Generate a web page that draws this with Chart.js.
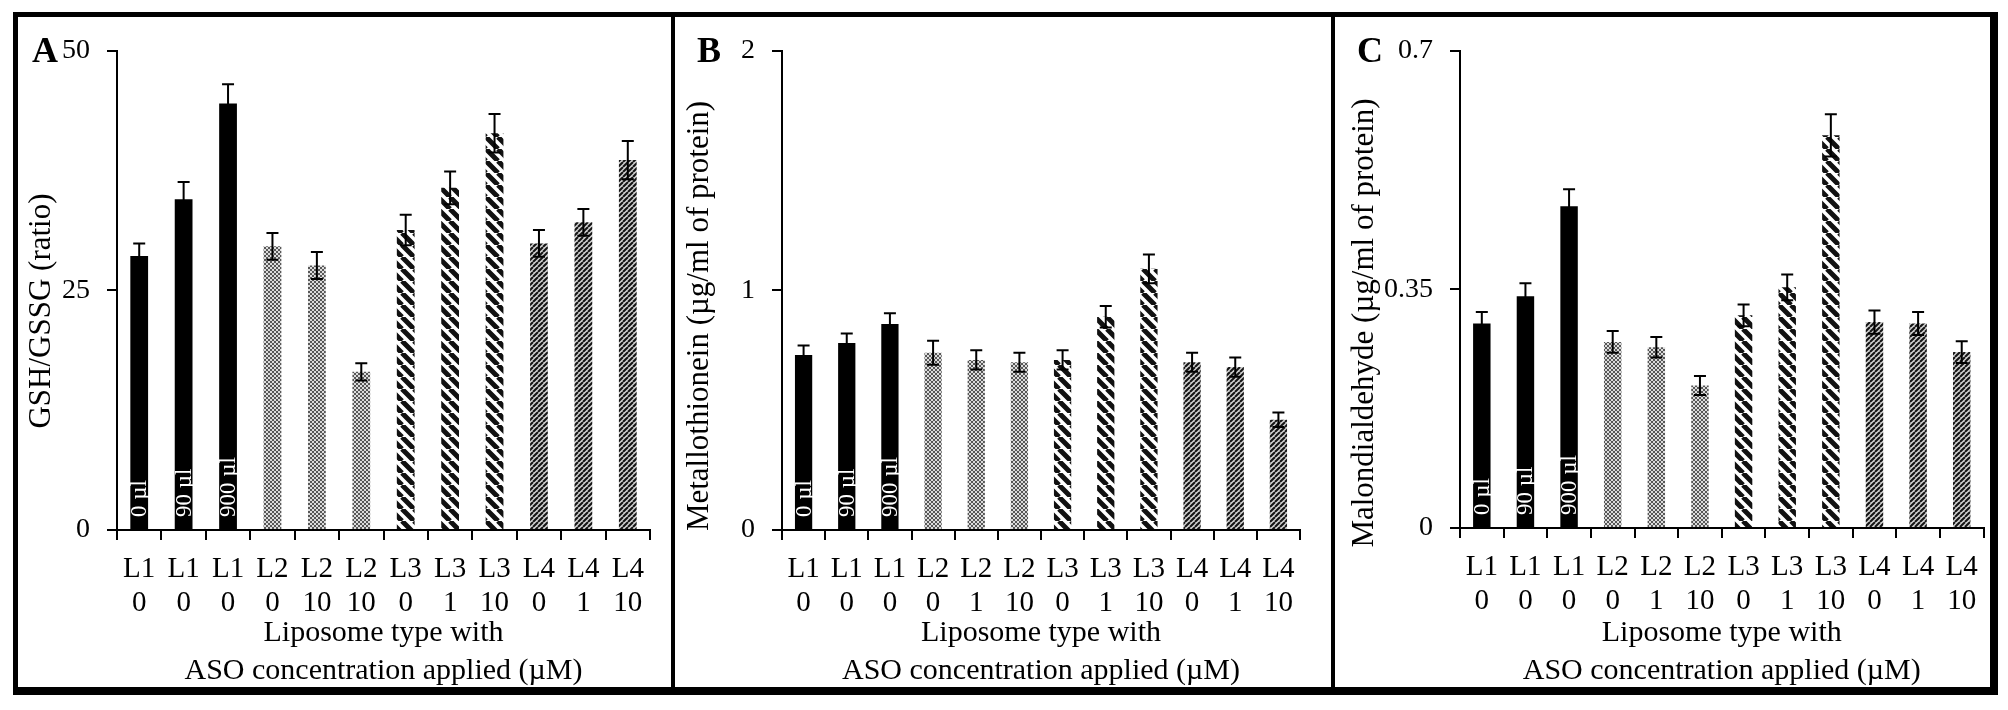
<!DOCTYPE html>
<html lang="en">
<head>
<meta charset="UTF-8">
<title>GSH/GSSG, metallothionein, malondialdehyde</title>
<script src="https://cdn.jsdelivr.net/npm/chart.js"></script>
<style>
  body { margin: 0; background: #fff; }
  #page { position: relative; width: 2008px; height: 710px; overflow: hidden; }
  canvas { position: absolute; }
  .frame { position: absolute; left: 13px; top: 12px; width: 1985px; height: 683px; box-sizing: border-box;
           border-style: solid; border-color: #000; border-width: 5px 8px 8px 5px; }
  .divider { position: absolute; top: 12px; width: 4px; height: 683px; background: #000; }
</style>
</head>
<body>
<div id="page">
  <canvas id="chartA" width="653" height="673" style="left:18px;top:17px"></canvas>
  <canvas id="chartB" width="656" height="673" style="left:675px;top:17px"></canvas>
  <canvas id="chartC" width="655" height="673" style="left:1335px;top:17px"></canvas>
  <div class="frame"></div>
  <div class="divider" style="left:671px"></div>
  <div class="divider" style="left:1331px"></div>
</div>
<script>
// categories
const liposome = ['L1','L1','L1','L2','L2','L2','L3','L3','L3','L4','L4','L4'];
const asoA  = ['0','0','0','0','10','10','0','1','10','0','1','10'];
const asoBC = ['0','0','0','0','1','10','0','1','10','0','1','10'];
const volumeNotes = ['0 µl','90 µl','900 µl'];

// series (mean, error)
const gshRatio = [28.6, 34.5, 44.5, 29.6, 27.6, 16.5, 31.3, 35.7, 41.4, 29.9, 32.1, 38.6];
const gshErr   = [1.3, 1.8, 2.0, 1.4, 1.4, 0.9, 1.6, 1.7, 2.0, 1.4, 1.4, 2.0];
const metallothionein    = [0.73, 0.78, 0.86, 0.74, 0.71, 0.70, 0.71, 0.89, 1.09, 0.70, 0.68, 0.46];
const metallothioneinErr = [0.04, 0.04, 0.045, 0.05, 0.04, 0.04, 0.04, 0.045, 0.06, 0.04, 0.04, 0.03];
const malondialdehyde    = [0.300, 0.340, 0.472, 0.273, 0.265, 0.209, 0.312, 0.353, 0.576, 0.302, 0.300, 0.258];
const malondialdehydeErr = [0.017, 0.019, 0.025, 0.016, 0.015, 0.014, 0.016, 0.019, 0.031, 0.017, 0.017, 0.016];

// tick labels
const ticksA = [0, 25, 50];
const ticksB = [0, 1, 2];
const ticksC = [0, 0.35, 0.7];

const FONT = 'Liberation Serif';

function makeFills(ctx) {
  function tile(size, draw) {
    const c = document.createElement('canvas');
    c.width = c.height = size;
    draw(c.getContext('2d'), size);
    return ctx.createPattern(c, 'repeat');
  }
  const dots = tile(4, (g) => {
    g.fillStyle = '#dcdcdc'; g.fillRect(0, 0, 4, 4);
    g.fillStyle = '#575757'; g.fillRect(0, 0, 2, 2); g.fillRect(2, 2, 2, 2);
  });
  const wide = tile(12, (g, s) => {
    g.fillStyle = '#fff'; g.fillRect(0, 0, s, s);
    g.strokeStyle = '#111'; g.lineWidth = 5;
    g.beginPath();
    for (const k of [-s, 0, s]) { g.moveTo(k, 0); g.lineTo(k + s, s); }
    g.stroke();
  });
  const fine = tile(5, (g, s) => {
    g.fillStyle = '#cfcfcf'; g.fillRect(0, 0, s, s);
    g.strokeStyle = '#141414'; g.lineWidth = 2;
    g.beginPath();
    for (const k of [-s, 0, s]) { g.moveTo(k, s); g.lineTo(k + s, 0); }
    g.stroke();
  });
  return { L1: '#000', L2: dots, L3: wide, L4: fine };
}

// error bars, volume notes, panel letter and y title
const panelText = {
  id: 'panelText',
  afterDatasetsDraw(chart, args, o) {
    const ctx = chart.ctx, area = chart.chartArea, y = chart.scales.y;
    const meta = chart.getDatasetMeta(0);
    const vals = chart.data.datasets[0].data;
    ctx.save();
    ctx.strokeStyle = '#000';
    ctx.lineWidth = 2;
    meta.data.forEach((bar, i) => {
      const top = y.getPixelForValue(vals[i] + o.errors[i]);
      const bot = y.getPixelForValue(vals[i] - o.errors[i]);
      ctx.beginPath();
      ctx.moveTo(bar.x, bot); ctx.lineTo(bar.x, top);
      ctx.moveTo(bar.x - 6, top); ctx.lineTo(bar.x + 6, top);
      ctx.moveTo(bar.x - 6, bot); ctx.lineTo(bar.x + 6, bot);
      ctx.stroke();
    });
    ctx.fillStyle = '#fff';
    ctx.font = '23px "' + FONT + '"';
    ctx.textAlign = 'left';
    ctx.textBaseline = 'middle';
    volumeNotes.forEach((t, i) => {
      const bar = meta.data[i];
      ctx.save();
      ctx.translate(bar.x, area.bottom - 13);
      ctx.rotate(-Math.PI / 2);
      ctx.fillText(t, 0, 1);
      ctx.restore();
    });
    ctx.restore();
  },
  afterDraw(chart, args, o) {
    const ctx = chart.ctx;
    ctx.save();
    ctx.fillStyle = '#000';
    ctx.font = 'bold 36px "' + FONT + '"';
    ctx.textAlign = 'left';
    ctx.textBaseline = 'alphabetic';
    ctx.fillText(o.letter, o.letterX, 45);
    ctx.font = '31px "' + FONT + '"';
    ctx.textAlign = 'center';
    ctx.textBaseline = 'middle';
    ctx.translate(o.titleX, o.titleY);
    ctx.rotate(-Math.PI / 2);
    ctx.fillText(o.title, 0, 0);
    ctx.restore();
  }
};

function panel(id, c) {
  const canvas = document.getElementById(id);
  const fills = makeFills(canvas.getContext('2d'));
  const tickVals = c.ticks;
  new Chart(canvas, {
    type: 'bar',
    data: {
      labels: liposome.map((l, i) => [l, c.aso[i]]),
      datasets: [{
        data: c.values,
        backgroundColor: liposome.map(l => fills[l]),
        borderWidth: 0,
        barPercentage: 0.4,
        categoryPercentage: 1
      }]
    },
    options: {
      responsive: false,
      animation: false,
      devicePixelRatio: 1,
      layout: { padding: { top: c.padTop, right: c.padRight, left: 0, bottom: 0 } },
      plugins: {
        legend: { display: false },
        tooltip: { enabled: false },
        panelText: { errors: c.errors, letter: c.letter, letterX: c.letterX,
                     title: c.title, titleX: c.titleX, titleY: c.titleY }
      },
      scales: {
        x: {
          grid: { offset: true, drawOnChartArea: false, tickLength: 10, color: '#000', lineWidth: 2 },
          border: { color: '#000', width: 2 },
          ticks: { color: '#000', padding: 12, maxRotation: 0, autoSkip: false,
                   font: { family: FONT, size: 29, lineHeight: '34px' } },
          title: { display: true, text: ['Liposome type with', 'ASO concentration applied (µM)'],
                   color: '#000', padding: 0, font: { family: FONT, size: 30, lineHeight: '38px' } },
          afterFit: (s) => { s.height = c.xHeight; }
        },
        y: {
          min: tickVals[0],
          max: tickVals[tickVals.length - 1],
          afterBuildTicks: (s) => { s.ticks = tickVals.map(v => ({ value: v })); },
          grid: { drawOnChartArea: false, tickLength: 10, color: '#000', lineWidth: 2 },
          border: { color: '#000', width: 2 },
          ticks: { color: '#000', padding: 17, callback: (v) => String(v),
                   font: { family: FONT, size: 28 } },
          afterFit: (s) => { s.width = c.yWidth; }
        }
      }
    },
    plugins: [panelText]
  });
}

panel('chartA', { aso: asoA, values: gshRatio, errors: gshErr, ticks: ticksA,
  letter: 'A', letterX: 14, title: 'GSH/GSSG (ratio)', titleX: 24, titleY: 294,
  padTop: 28, padRight: 21, yWidth: 99, xHeight: 160 });
panel('chartB', { aso: asoBC, values: metallothionein, errors: metallothioneinErr, ticks: ticksB,
  letter: 'B', letterX: 22, title: 'Metallothionein (µg/ml of protein)', titleX: 25, titleY: 299,
  padTop: 31, padRight: 31, yWidth: 107, xHeight: 160 });
panel('chartC', { aso: asoBC, values: malondialdehyde, errors: malondialdehydeErr, ticks: ticksC,
  letter: 'C', letterX: 22, title: 'Malondialdehyde (µg/ml of protein)', titleX: 30, titleY: 306,
  padTop: 31, padRight: 4, yWidth: 125, xHeight: 162 });
</script>
</body>
</html>
